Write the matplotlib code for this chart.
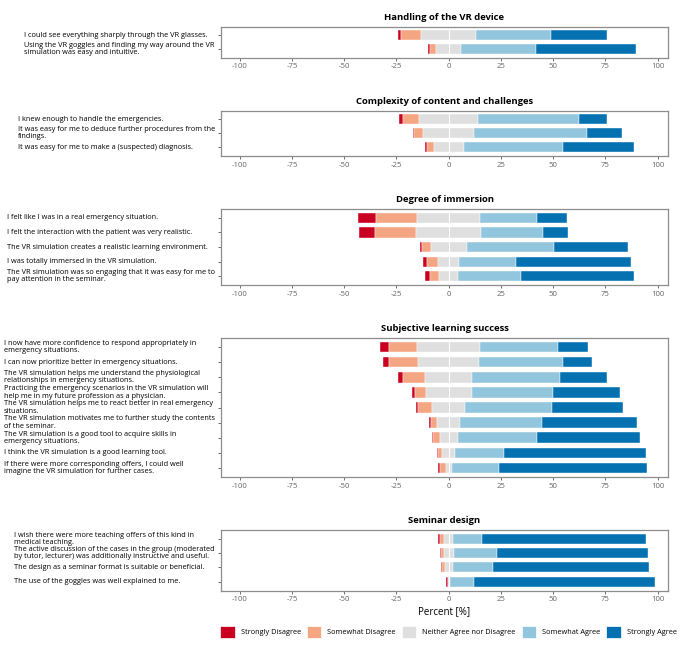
import matplotlib
matplotlib.use('Agg')
import matplotlib.pyplot as plt
from matplotlib.patches import Patch
from matplotlib.transforms import blended_transform_factory

plt.rcParams['font.family'] = ['Open Sans', 'DejaVu Sans']
plt.rcParams['axes.unicode_minus'] = False

# answer levels and colours (RdBu, 5 classes)
levels = ['Strongly Disagree', 'Somewhat Disagree', 'Neither Agree nor Disagree',
          'Somewhat Agree', 'Strongly Agree']
colors = ['#CA0020', '#F4A582', '#DFDFDF', '#92C5DE', '#0571B0']

# percentages per item, in the order of levels
handling_items = [
    "I could see everything sharply through the VR glasses.",
    "Using the VR goggles and finding my way around the VR\nsimulation was easy and intuitive.",
]
handling_pct = [
    [1.3, 9.7, 26.1, 35.8, 26.8],
    [1.0, 2.9, 11.9, 35.9, 48.0],
]

complexity_items = [
    "I knew enough to handle the emergencies.",
    "It was easy for me to deduce further procedures from the\nfindings.",
    "It was easy for me to make a (suspected) diagnosis.",
]
complexity_pct = [
    [1.9, 7.7, 28.5, 48.2, 13.4],
    [0.7, 4.4, 24.3, 53.9, 16.7],
    [1.0, 3.3, 14.4, 47.5, 33.8],
]

immersion_items = [
    "I felt like I was in a real emergency situation.",
    "I felt the interaction with the patient was very realistic.",
    "The VR simulation creates a realistic learning environment.",
    "I was totally immersed in the VR simulation.",
    "The VR simulation was so engaging that it was easy for me to\npay attention in the seminar.",
]
immersion_pct = [
    [8.4, 19.8, 30.3, 27.1, 14.2],
    [7.5, 19.7, 31.3, 29.3, 12.0],
    [1.3, 4.0, 17.2, 41.7, 35.5],
    [2.1, 5.0, 10.3, 27.1, 55.2],
    [2.4, 4.1, 9.4, 30.0, 53.8],
]

learning_items = [
    "I now have more confidence to respond appropriately in\nemergency situations.",
    "I can now prioritize better in emergency situations.",
    "The VR simulation helps me understand the physiological\nrelationships in emergency situations.",
    "Practicing the emergency scenarios in the VR simulation will\nhelp me in my future profession as a physician.",
    "The VR simulation helps me to react better in real emergency\nsituations.",
    "The VR simulation motivates me to further study the contents\nof the seminar.",
    "The VR simulation is a good tool to acquire skills in\nemergency situations.",
    "I think the VR simulation is a good learning tool.",
    "If there were more corresponding offers, I could well\nimagine the VR simulation for further cases.",
]
learning_pct = [
    [4.1, 13.6, 30.0, 37.4, 14.5],
    [2.9, 13.7, 29.3, 40.1, 13.7],
    [2.1, 10.7, 22.5, 42.1, 22.3],
    [1.4, 5.4, 21.9, 39.0, 32.1],
    [1.4, 6.4, 16.1, 41.5, 34.1],
    [0.8, 3.1, 11.0, 39.4, 45.3],
    [0.5, 3.2, 8.7, 37.8, 49.6],
    [0.5, 2.0, 6.2, 23.5, 67.8],
    [0.9, 2.7, 2.9, 22.5, 70.8],
]

seminar_items = [
    "I wish there were more teaching offers of this kind in\nmedical teaching.",
    "The active discussion of the cases in the group (moderated\nby tutor, lecturer) was additionally instructive and useful.",
    "The design as a seminar format is suitable or beneficial.",
    "The use of the goggles was well explained to me.",
]
seminar_pct = [
    [1.2, 2.0, 4.3, 13.7, 78.7],
    [0.8, 1.0, 4.9, 20.9, 72.3],
    [0.6, 1.1, 3.9, 19.1, 75.0],
    [0.6, 0.0, 1.1, 11.4, 86.6],
]

panels = [
    ("Handling of the VR device", handling_items, handling_pct),
    ("Complexity of content and challenges", complexity_items, complexity_pct),
    ("Degree of immersion", immersion_items, immersion_pct),
    ("Subjective learning success", learning_items, learning_pct),
    ("Seminar design", seminar_items, seminar_pct),
]

W, H = 685, 648
fig = plt.figure(figsize=(W / 100, H / 100), dpi=100)

# panel boxes in pixels (top, bottom), shared left/right
boxes = [(27, 57.5), (110.5, 156), (209, 285), (338, 477), (530, 590.5)]
x0, x1 = 221, 668
frame_col = '#8c8c8c'
lab_size = 5.3

label_sets = []
for k, ((title, items, pct), (top, bot)) in enumerate(zip(panels, boxes)):
    ax = fig.add_axes([x0 / W, 1 - bot / H, (x1 - x0) / W, (bot - top) / H])
    n = len(items)
    for i, row in enumerate(pct):
        left = -(row[0] + row[1] + row[2] / 2)
        for v, c in zip(row, colors):
            ax.barh(i, v, left=left, height=0.7, color=c, edgecolor='white', linewidth=0.3)
            left += v
    ax.axvline(0, color='white', lw=0.8)
    ax.set_xlim(-109, 105)
    ax.set_ylim(n - 0.4, -0.6)
    ax.set_xticks([-100, -75, -50, -25, 0, 25, 50, 75, 100])
    ax.set_yticks(range(n))
    ax.set_yticklabels([])
    ax.tick_params(axis='both', length=2.5, width=0.6, color='#555555',
                   labelsize=5.6, labelcolor='#666666', pad=1.5)
    for s in ax.spines.values():
        s.set_color(frame_col)
        s.set_linewidth(0.9)
    ax.set_title(title, fontsize=6.8, fontweight='bold', pad=5)
    if k == len(panels) - 1:
        ax.set_xlabel('Percent [%]', fontsize=7, labelpad=2)
    tr = blended_transform_factory(fig.transFigure, ax.transData)
    texts = [ax.text(0, i, lab, transform=tr, ha='left', va='center',
                     fontsize=lab_size, linespacing=1.05)
             for i, lab in enumerate(items)]
    label_sets.append(texts)

# left-justify labels per panel so the longest ends next to the axis
fig.canvas.draw()
r = fig.canvas.get_renderer()
for texts in label_sets:
    maxw = max(t.get_window_extent(r).width for t in texts)
    for t in texts:
        t.set_x(max(2, x0 - 6 - maxw) / W)

handles = [Patch(facecolor=c, edgecolor='white', linewidth=0.5) for c in colors]
fig.legend(handles, levels, loc='center left', bbox_to_anchor=(220 / W, 1 - 632 / H),
           ncol=5, frameon=False, fontsize=lab_size, handlelength=2.0, handleheight=2.3,
           handletextpad=0.8, columnspacing=0.8, borderaxespad=0, borderpad=0)

fig.savefig('out.png', dpi=100)
